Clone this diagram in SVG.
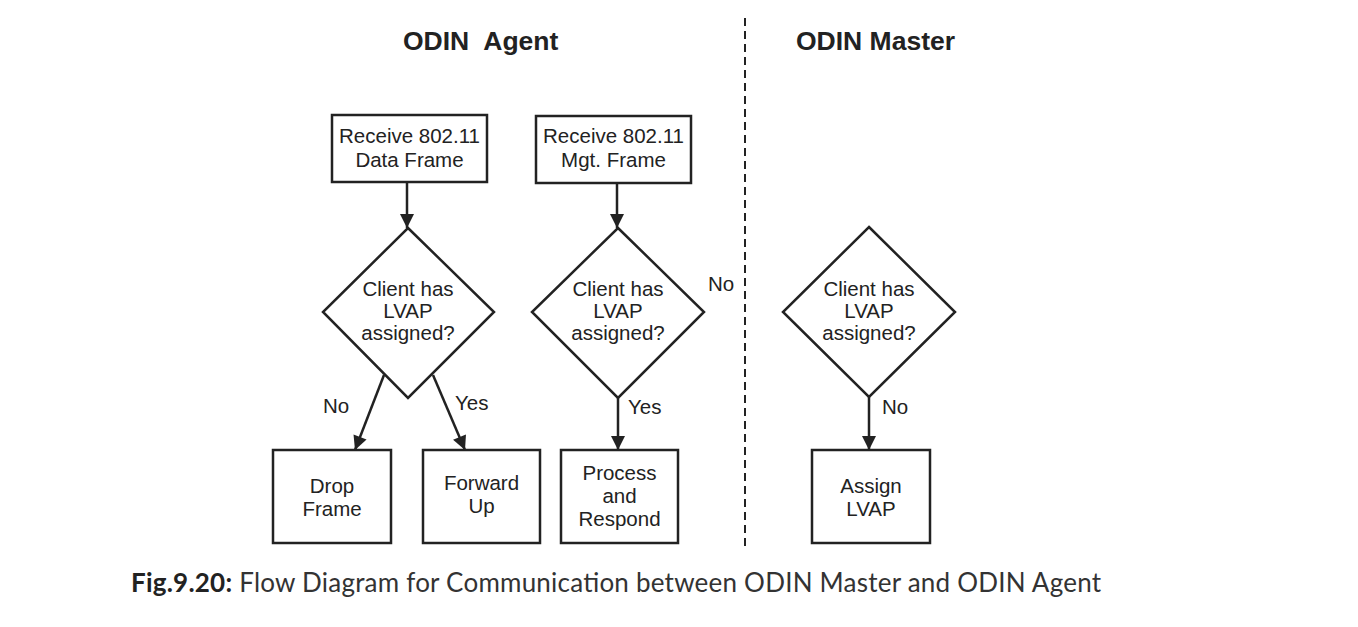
<svg xmlns="http://www.w3.org/2000/svg" width="1358" height="627" viewBox="0 0 1358 627">
<style>
.shape{fill:#fff;stroke:#222;stroke-width:2.5}
.t{font-family:"Liberation Sans",Arial,sans-serif;font-size:20.5px;fill:#222;text-anchor:middle}
.l{font-family:"Liberation Sans",Arial,sans-serif;font-size:20.5px;fill:#222}
.h{font-family:"Liberation Sans",Arial,sans-serif;font-size:26.5px;font-weight:bold;fill:#222}
.c{stroke:#222;stroke-width:2.5;fill:none;marker-end:url(#ah)}
.cap{font-family:Lato,"Open Sans",sans-serif;font-size:26px;fill:#333}
</style>
<defs>
<marker id="ah" viewBox="0 0 10 10" refX="10" refY="5" markerWidth="20" markerHeight="14" markerUnits="userSpaceOnUse" orient="auto">
<path d="M0,0 L10,5 L0,10 z" fill="#222"/>
</marker>
</defs>
<rect width="1358" height="627" fill="#fff"/>
<text class="h" x="403" y="50">ODIN<tspan dx="14">Agent</tspan></text>
<text class="h" x="796" y="50">ODIN Master</text>
<line x1="745" y1="18" x2="745" y2="550" stroke="#222" stroke-width="2" stroke-dasharray="8,5"/>

<g id="connectors">
<line class="c" x1="407" y1="183" x2="407" y2="228"/>
<line class="c" x1="617" y1="184" x2="617" y2="228"/>
<line class="c" x1="384" y1="375" x2="355" y2="450"/>
<line class="c" x1="433" y1="375" x2="465" y2="450"/>
<line class="c" x1="618" y1="398" x2="618" y2="450"/>
<line class="c" x1="869" y1="397" x2="869" y2="450"/>
<text class="l" x="323" y="413">No</text>
<text class="l" x="455" y="410">Yes</text>
<text class="l" x="628" y="414">Yes</text>
<text class="l" x="708" y="291">No</text>
<text class="l" x="882" y="414">No</text>
</g>

<g id="n1"><rect class="shape" x="332" y="115" width="155" height="67"/>
<text class="t" x="409.5" y="143">Receive 802.11</text><text class="t" x="409.5" y="167">Data Frame</text></g>
<g id="n2"><rect class="shape" x="536" y="116" width="155" height="67"/>
<text class="t" x="613.5" y="143">Receive 802.11</text><text class="t" x="613.5" y="167">Mgt. Frame</text></g>

<g id="d1"><polygon class="shape" points="408,228 494,312 408,398 323,312"/>
<text class="t" x="408" y="296">Client has</text><text class="t" x="408" y="318">LVAP</text><text class="t" x="408" y="340">assigned?</text></g>
<g id="d2"><polygon class="shape" points="618,228 704,312 618,398 532,312"/>
<text class="t" x="618" y="296">Client has</text><text class="t" x="618" y="318">LVAP</text><text class="t" x="618" y="340">assigned?</text></g>
<g id="d3"><polygon class="shape" points="869,227 955,312 869,397 783,312"/>
<text class="t" x="869" y="296">Client has</text><text class="t" x="869" y="318">LVAP</text><text class="t" x="869" y="340">assigned?</text></g>

<g id="b1"><rect class="shape" x="273" y="450" width="118" height="93"/>
<text class="t" x="332" y="493">Drop</text><text class="t" x="332" y="516">Frame</text></g>
<g id="b2"><rect class="shape" x="423" y="450" width="117" height="93"/>
<text class="t" x="481.5" y="490">Forward</text><text class="t" x="481.5" y="513">Up</text></g>
<g id="b3"><rect class="shape" x="561" y="450" width="117" height="93"/>
<text class="t" x="619.5" y="480">Process</text><text class="t" x="619.5" y="503">and</text><text class="t" x="619.5" y="526">Respond</text></g>
<g id="b4"><rect class="shape" x="812" y="450" width="118" height="93"/>
<text class="t" x="871" y="493">Assign</text><text class="t" x="871" y="516">LVAP</text></g>

<text class="cap" x="131" y="592" textLength="970" lengthAdjust="spacing"><tspan font-weight="bold" fill="#222">Fig.9.20:</tspan> Flow Diagram for Communication between ODIN Master and ODIN Agent</text>
</svg>
